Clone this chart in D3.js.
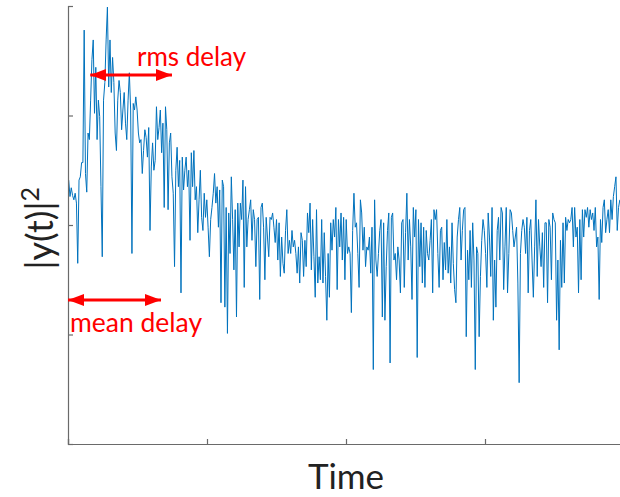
<!DOCTYPE html>
<html><head><meta charset="utf-8">
<script src="https://cdn.jsdelivr.net/npm/d3@7"></script>
<style>html,body{margin:0;padding:0;background:#fff;}svg{display:block;}</style>
</head><body>
<svg id="chart" width="620" height="497"></svg>
<script>
// Power delay profile |y(t)|^2 (arbitrary units), uniformly sampled in time
const power = [
24.1,22.6,23.4,22.7,22.3,22.9,22.0,16.5,24.1,24.4,25.7,25.7,37.8,24.7,23.0,28.4,27.8,31.4,35.1,36.9,30.2,34.4,27.8,31.4,29.9,23.5,17.1,31.4,33.0,36.9,39.9,32.6,36.9,32.1,35.3,33.0,28.4,26.8,31.4,33.2,32.1,28.7,30.5,32.1,29.3,27.8,31.4,33.9,30.5,17.4,31.1,30.5,31.7,30.5,28.4,27.5,27.8,24.7,26.8,
28.7,28.0,26.2,28.9,19.5,25.3,27.5,25.0,25.9,30.8,27.8,28.9,30.5,26.6,29.3,21.6,30.8,28.7,21.4,27.5,28.4,24.4,22.9,16.2,25.0,27.1,23.5,25.9,13.8,26.2,23.2,25.0,26.2,23.5,25.0,18.6,26.6,23.5,26.8,22.3,23.5,19.3,22.3,25.0,20.7,19.5,22.9,20.7,22.3,19.8,17.1,20.5,21.6,22.9,24.7,22.0,23.5,19.8,23.2,12.9,24.1,
23.5,12.5,21.6,10.1,21.1,17.4,24.4,20.5,15.9,21.4,11.6,22.0,18.0,22.0,20.5,24.1,14.3,23.5,18.0,20.5,21.4,22.3,18.6,21.4,20.5,16.2,20.5,20.7,13.2,21.6,22.0,19.8,15.0,20.7,18.9,17.1,20.7,20.5,21.1,19.8,18.4,20.5,16.8,20.2,15.3,18.9,16.5,15.6,19.5,21.4,17.4,18.6,17.4,19.5,18.0,18.6,17.4,15.6,18.0,14.7,19.3,18.6,
15.3,18.6,16.2,21.1,19.3,22.0,15.9,20.5,17.1,13.4,21.4,14.7,17.1,15.0,20.5,14.7,19.3,15.3,11.3,17.4,13.4,20.2,17.7,20.5,18.9,21.6,14.1,20.5,18.0,21.1,16.8,20.7,15.0,20.5,17.4,18.0,17.4,12.0,19.5,22.9,19.8,20.2,17.4,14.3,22.3,21.1,17.7,19.8,16.2,18.0,17.7,18.9,15.6,19.8,6.8,22.3,16.8,15.3,17.4,19.5,20.5,11.6,20.2,11.3,
16.2,19.5,21.1,7.4,20.7,21.1,16.8,17.4,15.0,18.0,16.8,13.8,20.2,20.5,14.3,19.3,22.9,16.8,20.5,18.0,13.2,21.6,18.9,21.4,7.9,20.5,16.2,20.2,14.7,19.8,14.3,19.5,17.4,16.8,18.6,20.5,13.8,21.4,20.5,21.4,17.4,14.3,19.5,19.8,15.0,18.4,15.9,20.5,15.6,18.0,14.7,20.2,16.5,14.1,12.9,18.9,20.5,21.6,16.8,19.5,21.4,
21.6,9.8,17.7,15.0,19.5,14.3,20.2,16.8,6.8,18.0,17.4,9.8,15.3,18.6,20.5,19.5,17.4,14.3,21.1,18.9,15.3,21.6,11.3,16.8,12.5,19.5,20.7,16.8,21.6,21.1,14.1,18.0,21.6,13.8,17.4,21.4,21.1,19.5,18.0,18.9,19.8,14.7,5.6,17.4,19.5,20.5,19.8,17.4,20.7,13.8,19.5,20.5,16.8,13.4,18.0,22.3,15.3,20.5,18.0,16.2,19.3,14.3,20.2,
20.2,12.9,20.5,19.8,15.0,21.1,20.5,20.2,11.3,16.8,8.6,18.6,14.3,20.2,14.7,20.7,19.5,20.5,20.2,20.5,21.6,18.0,21.6,18.9,19.8,13.8,20.5,15.0,21.4,18.9,21.4,20.7,21.6,19.8,21.4,20.5,21.1,19.5,21.6,18.0,18.9,13.2,20.5,18.4,21.6,22.3,19.3,20.5,21.4,19.3,22.3,20.5,22.6,23.5,24.4,19.5,21.6,22.3
];
const tStart = 0.005;     // first sample time
const tEnd = 3.97;        // last sample time
const xTicks = [0, 1, 2, 3, 4];
const yTicks = [0, 10, 20, 30, 40];
const rmsSpan = [0.16, 0.748];   // rms delay arrow extent (time)
const meanSpan = [0.0, 0.669];   // mean delay arrow extent (time)
const rmsLevel = 33.7, meanLevel = 13.15;

const svg = d3.select("#chart");
const x = d3.scaleLinear().domain([0, 4]).range([68, 624]);
const y = d3.scaleLinear().domain([0, 40]).range([444, 6]);
const dt = (tEnd - tStart) / (power.length - 1);
const data = power.map((v, i) => ({t: tStart + i * dt, v}));

const defs = svg.append("defs");
["s","e"].forEach(k => {
  defs.append("marker").attr("id", "ah" + k)
    .attr("viewBox", "0 0 16 12").attr("refX", k === "e" ? 16 : 0).attr("refY", 6)
    .attr("markerWidth", 16).attr("markerHeight", 12).attr("markerUnits", "userSpaceOnUse")
    .attr("orient", "auto")
    .append("path").attr("d", k === "e" ? "M0,0 L16,6 L0,12 Z" : "M16,0 L0,6 L16,12 Z").attr("fill", "#ff0000");
});

// line
svg.append("path").datum(data)
  .attr("fill", "none").attr("stroke", "#0072BD").attr("stroke-width", 1)
  .attr("stroke-linejoin", "round")
  .attr("d", d3.line().x(d => x(d.t)).y(d => y(d.v)));

// axes
const xAxis = svg.append("g").attr("transform", `translate(0,${y(0)})`)
  .call(d3.axisTop(x).tickValues(xTicks).tickSize(5).tickFormat(""));
const yAxis = svg.append("g").attr("transform", `translate(${x(0)},0)`)
  .call(d3.axisRight(y).tickValues(yTicks).tickSize(5).tickFormat(""));
[xAxis, yAxis].forEach(g => {
  g.selectAll("path.domain").attr("stroke", "#6a6a6a").attr("stroke-width", 1.2);
  g.selectAll(".tick line").attr("stroke", "#6a6a6a").attr("stroke-width", 1.2);
});

// axis labels
svg.append("text").attr("x", x(2)).attr("y", 489).attr("text-anchor", "middle")
  .attr("font-family", "Lato, sans-serif").attr("font-size", 35).attr("fill", "#222")
  .text("Time");
const yl = svg.append("text").attr("transform", `translate(53,${y(19.7)}) rotate(-90)`)
  .attr("text-anchor", "middle").attr("font-family", "Lato, sans-serif")
  .attr("font-size", 36).attr("fill", "#222");
yl.append("tspan").text("|y(t)|");
yl.append("tspan").attr("dy", -14).attr("font-size", 25).text("2");

// annotations
svg.append("line").attr("x1", x(rmsSpan[0])).attr("x2", x(rmsSpan[1]))
  .attr("y1", y(rmsLevel)).attr("y2", y(rmsLevel))
  .attr("stroke", "#ff0000").attr("stroke-width", 3)
  .attr("marker-start", "url(#ahs)").attr("marker-end", "url(#ahe)");
svg.append("line").attr("x1", x(meanSpan[0])).attr("x2", x(meanSpan[1]))
  .attr("y1", y(meanLevel)).attr("y2", y(meanLevel))
  .attr("stroke", "#ff0000").attr("stroke-width", 3)
  .attr("marker-start", "url(#ahs)").attr("marker-end", "url(#ahe)");
svg.append("text").attr("x", x(0.496)).attr("y", y(34.5))
  .attr("font-family", "Lato, sans-serif").attr("font-size", 26).attr("fill", "#ff0000")
  .text("rms delay");
svg.append("text").attr("x", x(0.014)).attr("y", y(10.2))
  .attr("font-family", "Lato, sans-serif").attr("font-size", 26.5).attr("fill", "#ff0000")
  .text("mean delay");
</script>
</body></html>
